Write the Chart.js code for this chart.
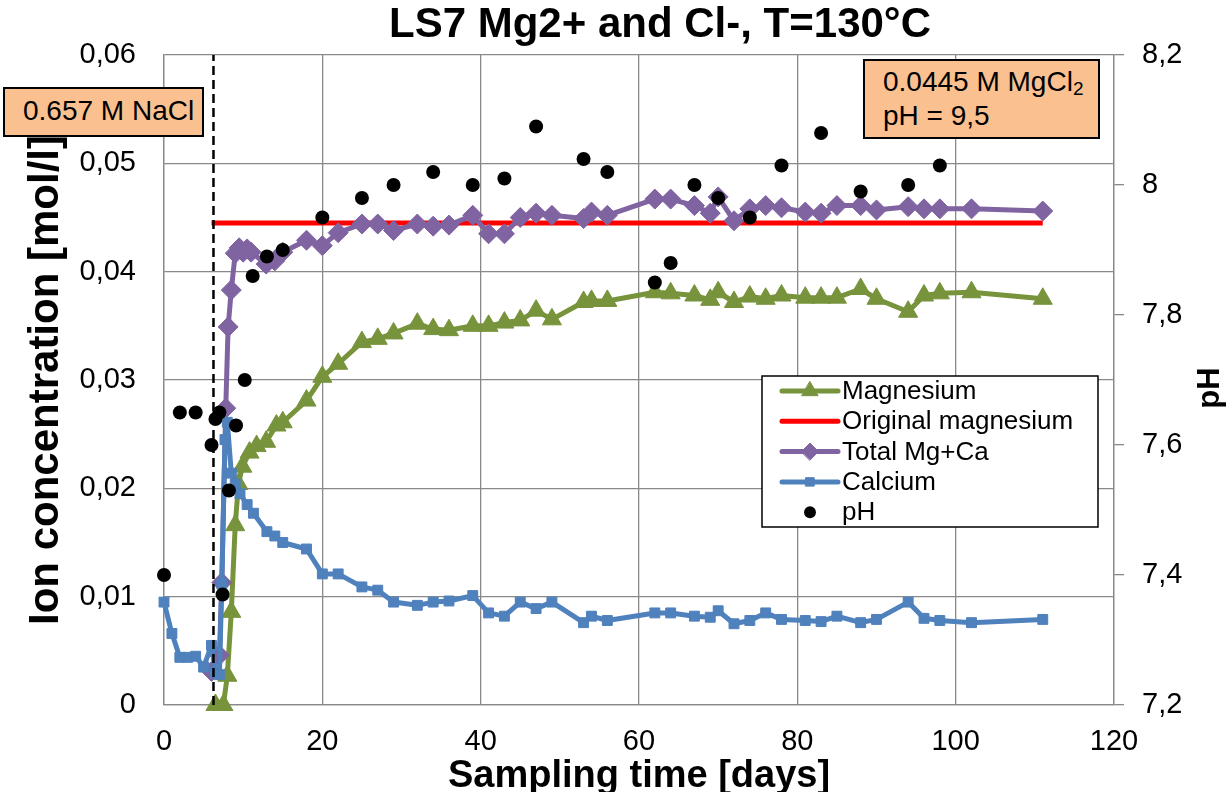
<!DOCTYPE html>
<html>
<head>
<meta charset="utf-8">
<title>LS7 Mg2+ and Cl-</title>
<script src="https://cdn.jsdelivr.net/npm/chart.js@4.4.1/dist/chart.umd.min.js"></script>
<style>
  body { margin: 0; background: #fff; }
  #wrap {
    position: relative;
    width: 1229px;
    height: 792px;
    font-family: "Liberation Sans", Arial, sans-serif;
  }
  #chart { position: absolute; left: 0; top: 0; }
  .note {
    position: absolute;
    background: #fac090;
    border: 2px solid #000;
    box-sizing: border-box;
    font-size: 28px;
    color: #000;
    white-space: nowrap;
  }
  #nacl { left: 3px; top: 87px; width: 201px; height: 50px; padding: 6px 0 0 18px; }
  #mgcl { left: 863px; top: 59px; width: 237px; height: 80px; padding: 4px 0 0 18px; line-height: 34px; }
  #mgcl sub { font-size: 19px; vertical-align: -4px; line-height: 0; }
</style>
</head>
<body>
<div id="wrap">
  <canvas id="chart" width="1229" height="792"></canvas>
  <div class="note" id="nacl">0.657 M NaCl</div>
  <div class="note" id="mgcl">0.0445 M MgCl<sub>2</sub><br>pH = 9,5</div>
</div>
<script>
"use strict";

// calcium in solution [mol/l]
const caDays = [0, 1, 2, 3, 4, 5, 6, 6.5, 7, 7.3, 7.7, 8, 8.5, 9, 9.6, 10.5, 11.3, 13, 14, 15,
  18, 20, 22, 25, 27, 29, 32, 34, 36, 39, 41, 43, 45, 47, 49, 53, 54, 56, 62, 64,
  67, 69, 70, 72, 74, 76, 78, 81, 83, 85, 88, 90, 94, 96, 98, 102, 111];
const caConc = [0.0095, 0.0066, 0.0044, 0.0044, 0.0045, 0.0035, 0.0055, 0.0030, 0.0028, 0.0112,
  0.0245, 0.0261, 0.0214, 0.0204, 0.0195, 0.0185, 0.0177, 0.0160, 0.0156, 0.0150,
  0.0144, 0.0121, 0.0121, 0.0109, 0.0106, 0.0095, 0.0092, 0.0095, 0.0096, 0.0101,
  0.0085, 0.0082, 0.0095, 0.0089, 0.0095, 0.0076, 0.0082, 0.0078, 0.0085, 0.0085,
  0.0082, 0.0081, 0.0087, 0.0075, 0.0078, 0.0085, 0.0079, 0.0078, 0.0077, 0.0082,
  0.0076, 0.0079, 0.0095, 0.0080, 0.0078, 0.0076, 0.0079];

// magnesium in solution [mol/l]
const mgDays = [6.5, 7.5, 8, 8.5, 9, 9.4, 9.9, 10.8, 11.7, 12.9, 14.2, 15, 18, 20, 22, 25, 27, 29, 32, 34,
  36, 39, 41, 43, 45, 47, 49, 53, 54, 56, 62, 64, 67, 69, 70, 72, 74, 76, 78, 81,
  83, 85, 88, 90, 94, 96, 98, 102, 111];
const mgConc = [0, 0, 0.0027, 0.0086, 0.0166, 0.0204, 0.0220, 0.0233, 0.0239, 0.0243,
  0.0258, 0.0261, 0.0281, 0.0303, 0.0315, 0.0335, 0.0338, 0.0343, 0.0352, 0.0347,
  0.0346, 0.0350, 0.0350, 0.0353, 0.0355, 0.0364, 0.0356, 0.0372, 0.0373, 0.0373,
  0.0381, 0.0380, 0.0378, 0.0374, 0.0381, 0.0372, 0.0377, 0.0375, 0.0378, 0.0376,
  0.0376, 0.0376, 0.0384, 0.0375, 0.0363, 0.0378, 0.0380, 0.0381, 0.0375];

// Mg + Ca [mol/l]
const totDays = [6, 7, 7.3, 7.8, 8.1, 8.5, 9, 9.5, 10, 10.5, 11, 12.9, 14, 15, 18, 20, 22, 25, 27, 29,
  32, 34, 36, 39, 41, 43, 45, 47, 49, 53, 54, 56, 62, 64, 67, 69, 70, 72, 74, 76,
  78, 81, 83, 85, 88, 90, 94, 96, 98, 102, 111];
const totConc = [0.0031, 0.0046, 0.0113, 0.0274, 0.0349, 0.0383, 0.0417, 0.0422, 0.0418, 0.0421,
  0.0418, 0.0407, 0.0410, 0.0418, 0.0429, 0.0424, 0.0436, 0.0444, 0.0444, 0.0438,
  0.0444, 0.0442, 0.0443, 0.0452, 0.0435, 0.0435, 0.0450, 0.0454, 0.0452, 0.0449,
  0.0455, 0.0452, 0.0467, 0.0467, 0.0461, 0.0454, 0.0469, 0.0447, 0.0458, 0.0461,
  0.0459, 0.0455, 0.0454, 0.0461, 0.0461, 0.0457, 0.0460, 0.0458, 0.0458, 0.0458, 0.0456];

// starting MgCl2 level
const origDays = [6, 111];
const origConc = [0.0445, 0.0445];

// NaCl -> MgCl2 switch
const switchDays = [6.25, 6.25];
const switchConc = [0, 0.06];

// measured pH
const phDays = [0, 2, 4, 6, 6.5, 7, 7.4, 8.2, 9.1, 10.2, 11.2, 13, 15, 20, 25, 29, 34, 39, 43, 47,
  53, 56, 62, 64, 67, 70, 74, 78, 83, 88, 94, 98];
const phValues = [7.40, 7.65, 7.65, 7.60, 7.64, 7.65, 7.37, 7.53, 7.63, 7.70,
  7.86, 7.89, 7.90, 7.95, 7.98, 8.00, 8.02, 8.00, 8.01, 8.09,
  8.04, 8.02, 7.85, 7.88, 8.00, 7.98, 7.95, 8.03, 8.08, 7.99, 8.00, 8.03];

const xTicks = [0, 20, 40, 60, 80, 100, 120];
const legendOrder = ["Magnesium", "Original magnesium", "Total Mg+Ca", "Calcium", "pH"];

const FONT = "'Liberation Sans', Arial, sans-serif";
const GRID = "#898989";
const GREEN = "#77933c";
const PURPLE = "#8064a2";
const BLUE = "#4f81bd";
const RED = "#ff0000";

const toPoints = (xs, ys) => xs.map((x, i) => ({ x: x, y: ys[i] }));
const commaNum = (v, d) => {
  const s = String(Number(v.toFixed(d)));
  return s.replace(".", ",");
};

// legend box drawn inside the plot
const boxLegend = {
  id: "boxLegend",
  afterDatasetsDraw(chart, args, opts) {
    const ctx = chart.ctx;
    ctx.save();
    ctx.fillStyle = "#fff";
    ctx.fillRect(opts.left, opts.top, opts.width, opts.height);
    ctx.strokeStyle = "#000";
    ctx.lineWidth = 1.5;
    ctx.strokeRect(opts.left, opts.top, opts.width, opts.height);
    ctx.font = "26px " + FONT;
    ctx.textBaseline = "middle";
    legendOrder.forEach(function (label, i) {
      const ds = chart.data.datasets.find((d) => d.label === label);
      const y = opts.top + opts.firstRow + i * opts.rowGap;
      const x0 = opts.left + 20;
      const x1 = x0 + 56;
      if (ds.showLine !== false) {
        ctx.strokeStyle = ds.borderColor;
        ctx.lineWidth = ds.borderWidth;
        ctx.lineCap = "round";
        ctx.beginPath();
        ctx.moveTo(x0, y);
        ctx.lineTo(x1, y);
        ctx.stroke();
      }
      if (ds.pointRadius > 0) {
        ctx.fillStyle = ds.pointBackgroundColor;
        ctx.strokeStyle = ds.pointBorderColor;
        ctx.lineWidth = ds.pointBorderWidth;
        Chart.helpers.drawPoint(ctx, {
          pointStyle: ds.pointStyle,
          radius: ds.pointRadius * 0.85,
          rotation: 0,
          borderWidth: ds.pointBorderWidth,
        }, (x0 + x1) / 2, y);
      }
      ctx.fillStyle = "#000";
      ctx.fillText(label, x1 + 4, y + 1);
    });
    ctx.restore();
  },
};

// chart title and the right axis title (bottom-to-top like the left one)
const extraText = {
  id: "extraText",
  afterDraw(chart, args, opts) {
    const ctx = chart.ctx;
    ctx.save();
    ctx.fillStyle = "#000";
    ctx.textAlign = "center";
    ctx.textBaseline = "middle";
    ctx.font = "bold 42px " + FONT;
    ctx.fillText(opts.title, opts.titleX, opts.titleY);
    ctx.translate(opts.rightX, opts.rightY);
    ctx.rotate(-Math.PI / 2);
    ctx.font = "bold 31px " + FONT;
    ctx.fillText(opts.right, 0, 0);
    ctx.restore();
  },
};

const ctx = document.getElementById("chart").getContext("2d");
const chart = new Chart(ctx, {
  type: "line",
  data: {
    datasets: [
      {
        label: "pH",
        data: toPoints(phDays, phValues),
        yAxisID: "y1",
        showLine: false,
        pointStyle: "circle",
        pointRadius: 7,
        pointBackgroundColor: "#000",
        pointBorderColor: "#000",
        pointBorderWidth: 0,
        borderColor: "#000",
        order: 0,
      },
      {
        label: "switch",
        data: toPoints(switchDays, switchConc),
        yAxisID: "y",
        borderColor: "#000",
        borderWidth: 2.5,
        borderDash: [9, 5],
        pointRadius: 0,
        order: 1,
      },
      {
        label: "Calcium",
        data: toPoints(caDays, caConc),
        yAxisID: "y",
        borderColor: BLUE,
        borderWidth: 5,
        pointStyle: "rect",
        pointRadius: 7,
        pointBackgroundColor: BLUE,
        pointBorderColor: BLUE,
        pointBorderWidth: 1,
        order: 2,
      },
      {
        label: "Total Mg+Ca",
        data: toPoints(totDays, totConc),
        yAxisID: "y",
        borderColor: PURPLE,
        borderWidth: 5,
        pointStyle: "rectRot",
        pointRadius: 10,
        pointBackgroundColor: PURPLE,
        pointBorderColor: PURPLE,
        pointBorderWidth: 1,
        order: 3,
      },
      {
        label: "Original magnesium",
        data: toPoints(origDays, origConc),
        yAxisID: "y",
        borderColor: RED,
        borderWidth: 5,
        pointRadius: 0,
        order: 4,
      },
      {
        label: "Magnesium",
        data: toPoints(mgDays, mgConc),
        yAxisID: "y",
        borderColor: GREEN,
        borderWidth: 5,
        pointStyle: "triangle",
        pointRadius: 11,
        pointBackgroundColor: GREEN,
        pointBorderColor: GREEN,
        pointBorderWidth: 1,
        order: 5,
      },
    ],
  },
  options: {
    responsive: false,
    animation: false,
    devicePixelRatio: 1,
    events: [],
    layout: { padding: { top: 55 } },
    elements: { line: { tension: 0, borderJoinStyle: "round" } },
    datasets: { line: { clip: false } },
    plugins: {
      legend: { display: false },
      tooltip: { enabled: false },
      title: { display: false },
      boxLegend: { left: 762, top: 376, width: 336, height: 151, firstRow: 15, rowGap: 30.3 },
      extraText: {
        title: "LS7 Mg2+ and Cl-, T=130°C",
        titleX: 660,
        titleY: 25,
        right: "pH",
        rightX: 1210,
        rightY: 388,
      },
    },
    scales: {
      x: {
        type: "linear",
        min: 0,
        max: 120,
        afterBuildTicks: (s) => { s.ticks = xTicks.map((v) => ({ value: v })); },
        ticks: { color: "#000", font: { family: FONT, size: 29 }, padding: 20 },
        grid: { color: GRID, lineWidth: 1.3, drawTicks: false },
        border: { color: GRID, width: 1.3 },
        title: {
          display: true,
          text: "Sampling time [days]",
          color: "#000",
          font: { family: FONT, size: 38, weight: "bold", lineHeight: 0.8 },
          padding: 0,
        },
        afterFit: (s) => { s.height = 87; },
      },
      y: {
        position: "left",
        min: 0,
        max: 0.06,
        ticks: {
          stepSize: 0.01,
          color: "#000",
          font: { family: FONT, size: 29 },
          padding: 28,
          callback: (v) => commaNum(v, 2),
        },
        grid: { color: GRID, lineWidth: 1.3, drawTicks: false },
        border: { color: GRID, width: 1.3 },
        title: {
          display: true,
          text: "Ion concentration [mol/l]",
          color: "#000",
          font: { family: FONT, size: 42, weight: "bold", lineHeight: 0.8 },
          padding: { top: 30, bottom: 0 },
        },
        afterFit: (s) => { s.width = 164; },
      },
      y1: {
        position: "right",
        min: 7.2,
        max: 8.2,
        ticks: {
          stepSize: 0.2,
          color: "#000",
          font: { family: FONT, size: 29 },
          padding: 18,
          callback: (v) => commaNum(v, 1),
        },
        grid: { drawOnChartArea: false, drawTicks: true, tickLength: 10, color: GRID, lineWidth: 1.3 },
        border: { color: GRID, width: 1.3 },
        afterFit: (s) => { s.width = 115; },
      },
    },
  },
  plugins: [boxLegend, extraText],
});
</script>
</body>
</html>
